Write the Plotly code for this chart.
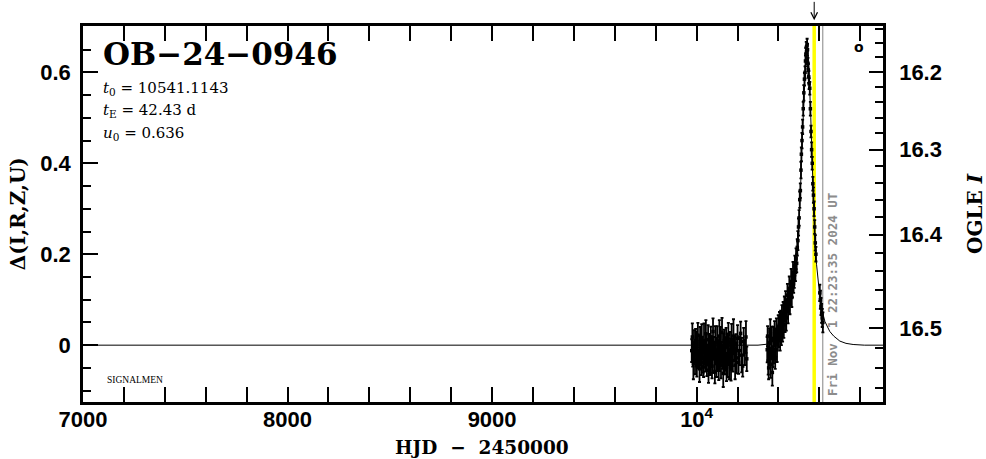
import plotly.graph_objects as go

# ---------------- data ----------------
# model light curve
model_t = [7000, 10300, 10341, 10380, 10407, 10425, 10440, 10456, 10472, 10482, 10488, 10497,
           10505, 10510, 10515, 10522, 10529, 10534, 10538, 10542, 10547, 10553, 10558, 10563,
           10568, 10573, 10578, 10586, 10594, 10602, 10611, 10620, 10627, 10640, 10651, 10670,
           10700, 10730, 10765, 10820, 10911]
model_d = [0.0, 0.0, 0.002, 0.015, 0.037, 0.052, 0.070, 0.093, 0.120, 0.150, 0.178, 0.240,
           0.310, 0.370, 0.440, 0.520, 0.590, 0.635, 0.660, 0.655, 0.630, 0.575, 0.500, 0.430,
           0.370, 0.315, 0.225, 0.178, 0.140, 0.108, 0.080, 0.062, 0.052, 0.040, 0.030, 0.020,
           0.009, 0.004, 0.0015, 0.0, 0.0]

# season 1 (baseline)
t_s1 = [9976, 9979, 9981, 9984, 9987, 9990, 9992, 9995, 9998, 10001, 10003, 10006, 10009, 10012,
        10014, 10017, 10020, 10023, 10025, 10028, 10031, 10034, 10036, 10039, 10042, 10045, 10047,
        10050, 10053, 10056, 10058, 10061, 10064, 10067, 10069, 10072, 10075, 10078, 10080, 10083,
        10086, 10089, 10091, 10094, 10097, 10100, 10102, 10105, 10108, 10111, 10113, 10116, 10119,
        10122, 10124, 10127, 10130, 10133, 10135, 10138, 10141, 10144, 10146, 10149, 10152, 10155,
        10157, 10160, 10163, 10166, 10168, 10171, 10174, 10177, 10180, 10184, 10188, 10192, 10196,
        10200, 10205, 10210, 10215, 10220, 10225, 10230, 10236, 10241, 10245]
d_s1 = [-0.012, 0.018, -0.025, -0.040, 0.005, -0.018, -0.032, 0.010, -0.008, -0.045,
        -0.020, 0.022, -0.030, -0.012, -0.052, 0.004, -0.022, -0.038, 0.015, -0.006,
        -0.028, -0.048, 0.008, -0.015, -0.034, 0.025, -0.010, -0.042, -0.020, 0.012,
        -0.055, -0.026, 0.000, -0.036, 0.018, -0.014, -0.046, -0.022, 0.030, -0.004,
        -0.030, -0.058, 0.006, -0.018, -0.040, 0.014, -0.024, -0.010, -0.050, 0.020,
        -0.032, 0.002, -0.044, -0.016, 0.028, -0.026, -0.062, -0.008, 0.010, -0.036,
        -0.020, 0.016, -0.048, -0.004, -0.030, 0.024, -0.014, -0.042, 0.006, -0.024,
        -0.052, 0.012, -0.018, -0.034, 0.020, -0.008, -0.044, 0.002, -0.028, 0.015,
        -0.038, -0.012, 0.026, -0.022, -0.046, 0.008, -0.016, 0.018, -0.030]
e_s1 = [0.025, 0.030, 0.022, 0.035, 0.028, 0.020, 0.032, 0.026, 0.038, 0.024,
        0.030, 0.027, 0.021, 0.034, 0.029, 0.036, 0.023, 0.028, 0.031, 0.025,
        0.033, 0.022, 0.040, 0.027, 0.024, 0.030, 0.035, 0.026, 0.021, 0.032,
        0.028, 0.037, 0.025, 0.030, 0.023, 0.034, 0.027, 0.039, 0.029, 0.022,
        0.031, 0.026, 0.036, 0.024, 0.030, 0.028, 0.033, 0.021, 0.027, 0.035,
        0.025, 0.038, 0.029, 0.023, 0.032, 0.026, 0.030, 0.034, 0.024, 0.028,
        0.036, 0.022, 0.031, 0.027, 0.040, 0.025, 0.029, 0.033, 0.023, 0.030,
        0.026, 0.035, 0.028, 0.024, 0.037, 0.027, 0.031, 0.022, 0.034, 0.029,
        0.025, 0.032, 0.026, 0.038, 0.023, 0.030, 0.028, 0.035, 0.027]

# season 2 (event)
t_s2 = [10345, 10347, 10350, 10352, 10355, 10357, 10360, 10362, 10365, 10367, 10370, 10373,
        10375, 10378, 10381, 10384, 10387, 10390, 10393, 10396, 10399,
        10402, 10405, 10408, 10411, 10414, 10417, 10420, 10423, 10426, 10429, 10432, 10435,
        10438, 10441, 10444, 10447, 10450, 10453, 10456, 10459, 10462, 10465, 10468, 10471,
        10474, 10477, 10480, 10483, 10486, 10489, 10492, 10495, 10498,
        10501, 10504, 10507, 10510, 10512, 10515, 10518, 10521, 10524, 10527,
        10530, 10532, 10534, 10536, 10537, 10539, 10540, 10542, 10544, 10546, 10548, 10550,
        10553, 10556, 10559, 10562, 10565, 10568, 10571, 10574, 10577, 10580, 10583,
        10602, 10605, 10608, 10611, 10614, 10617]
d_s2 = [-0.010, 0.020, -0.035, -0.050, 0.005, -0.020, 0.030, -0.042, -0.008, 0.015, -0.060, -0.025,
        0.010, -0.015, 0.025, -0.030, 0.005, 0.035, -0.010, 0.020, 0.040,
        0.020, 0.045, 0.010, 0.050, 0.030, 0.065, 0.035, 0.070, 0.045, 0.085, 0.055, 0.095,
        0.060, 0.080, 0.110, 0.075, 0.100, 0.125, 0.090, 0.115, 0.140, 0.105, 0.130, 0.160,
        0.135, 0.150, 0.175, 0.160, 0.190, 0.180, 0.215, 0.230, 0.260,
        0.280, 0.320, 0.340, 0.385, 0.420, 0.450, 0.480, 0.520, 0.555, 0.585,
        0.600, 0.625, 0.640, 0.655, 0.645, 0.630, 0.660, 0.650, 0.620, 0.605, 0.590, 0.575,
        0.565, 0.520, 0.470, 0.430, 0.400, 0.355, 0.330, 0.300, 0.260, 0.225, 0.200,
        0.115, 0.100, 0.085, 0.070, 0.060, 0.050]
e_s2 = [0.028, 0.022, 0.030, 0.025, 0.032, 0.024, 0.027, 0.030, 0.021, 0.026, 0.029, 0.023,
        0.031, 0.025, 0.028, 0.022, 0.030, 0.024, 0.027, 0.021, 0.026,
        0.024, 0.028, 0.022, 0.026, 0.030, 0.023, 0.027, 0.025, 0.029, 0.022, 0.026, 0.024,
        0.028, 0.021, 0.025, 0.027, 0.023, 0.026, 0.022, 0.024, 0.028, 0.021, 0.025, 0.023,
        0.020, 0.024, 0.022, 0.019, 0.023, 0.020, 0.018, 0.021, 0.019,
        0.017, 0.018, 0.016, 0.018, 0.015, 0.017, 0.016, 0.015, 0.017, 0.014,
        0.013, 0.012, 0.014, 0.012, 0.013, 0.012, 0.014, 0.013, 0.012, 0.014, 0.013, 0.012,
        0.014, 0.015, 0.013, 0.016, 0.014, 0.015, 0.017, 0.016, 0.015, 0.017, 0.016,
        0.018, 0.020, 0.019, 0.021, 0.020, 0.022]

t_all = t_s1 + t_s2
d_all = d_s1 + d_s2
e_all = e_s1 + e_s2

# axis tick labels
x_ticks = [7000, 8000, 9000, 10000]
x_ticktext = ["7000", "8000", "9000", "10<sup>4</sup>"]
y_ticks = [0, 0.2, 0.4, 0.6]
y_ticktext = ["0", "0.2", "0.4", "0.6"]
mag_major = [16.2, 16.3, 16.4, 16.5]
mag_minor = [16.14, 16.16, 16.18, 16.22, 16.24, 16.26, 16.28, 16.32, 16.34, 16.36, 16.38,
             16.42, 16.44, 16.46, 16.48, 16.52, 16.54, 16.56]

t_marker = 10574.6      # yellow line
t_now = 10616.43        # gray line (Fri Nov 1 22:23:35 2024 UT)

title_text = "OB\u221224\u22120946"
params = ["<i>t</i><sub>0</sub> = 10541.1143",
          "<i>t</i><sub>E</sub> = 42.43 d",
          "<i>u</i><sub>0</sub> = 0.636"]


def mag_to_delta(m):
    # mapping of the right-hand OGLE I axis onto the left-hand axis
    return 2.370 - 2.332 * 10 ** (0.4 * (m - 16.5))


XR = [7000, 10911]
YR = [-0.125, 0.702]

fig = go.Figure()
fig.add_trace(go.Scatter(x=model_t, y=model_d, mode="lines",
                         line=dict(color="black", width=1), hoverinfo="skip", showlegend=False))
fig.add_trace(go.Scatter(x=t_all, y=d_all, mode="markers",
                         marker=dict(symbol="square", size=3.5, color="black"),
                         error_y=dict(type="data", array=e_all, color="black",
                                      thickness=1.8, width=1.5),
                         showlegend=False))
fig.add_trace(go.Scatter(x=[XR[0]], y=[0], yaxis="y2", mode="markers",
                         marker=dict(opacity=0), hoverinfo="skip", showlegend=False))

tickfont = dict(family="Liberation Sans", size=22, color="black", weight="bold")

fig.update_layout(
    width=986, height=459,
    margin=dict(l=83, r=103, t=26, b=57, autoexpand=False),
    paper_bgcolor="white", plot_bgcolor="white",
    showlegend=False,
    xaxis=dict(range=XR, showgrid=False, zeroline=False, showline=True, linewidth=2.5,
               linecolor="black", mirror="allticks", ticks="inside", ticklen=15, tickwidth=2,
               tickcolor="black", tickmode="array", tickvals=x_ticks, ticktext=x_ticktext,
               tickfont=tickfont, ticklabelstandoff=-4, automargin=False,
               minor=dict(tick0=7000, dtick=200, ticks="inside", ticklen=8, tickwidth=2,
                          tickcolor="black", showgrid=False)),
    yaxis=dict(range=YR, showgrid=False, zeroline=False, showline=True, linewidth=2.5,
               linecolor="black", ticks="inside", ticklen=15, tickwidth=2, tickcolor="black",
               tickmode="array", tickvals=y_ticks, ticktext=y_ticktext, tickfont=tickfont,
               ticklabelstandoff=5, automargin=False,
               minor=dict(tick0=0, dtick=0.05, ticks="inside", ticklen=8, tickwidth=2,
                          tickcolor="black", showgrid=False)),
    yaxis2=dict(range=YR, overlaying="y", side="right", showgrid=False, zeroline=False,
                showline=True, linewidth=2.5, linecolor="black", ticks="inside", ticklen=14,
                tickwidth=2, tickcolor="black", tickmode="array",
                tickvals=[mag_to_delta(m) for m in mag_major],
                ticktext=["%.1f" % m for m in mag_major], tickfont=tickfont,
                ticklabelstandoff=9, automargin=False,
                minor=dict(tickmode="array", tickvals=[mag_to_delta(m) for m in mag_minor],
                           ticks="inside", ticklen=8, tickwidth=2, tickcolor="black",
                           showgrid=False)),
)

fig.add_shape(type="line", xref="x", yref="paper", x0=t_marker, x1=t_marker, y0=0, y1=1,
              line=dict(color="#ffff00", width=3.5), layer="below")
fig.add_shape(type="line", xref="x", yref="paper", x0=t_now, x1=t_now, y0=0, y1=1,
              line=dict(color="#999999", width=1.2), layer="below")

serif = "DejaVu Serif"
ann = []
ann.append(dict(text="<b>%s</b>" % title_text, xref="paper", yref="paper", x=0.022, y=0.926,
                xanchor="left", yanchor="middle", showarrow=False,
                font=dict(family=serif, size=31, color="black")))
for p, yy in zip(params, [0.835, 0.774, 0.715]):
    ann.append(dict(text=p, xref="paper", yref="paper", x=0.023, y=yy, xanchor="left",
                    yanchor="middle", showarrow=False,
                    font=dict(family=serif, size=15, color="black")))
ann.append(dict(text="SIGNALMEN", xref="paper", yref="paper", x=0.027, y=0.058, xanchor="left",
                yanchor="middle", showarrow=False,
                font=dict(family="Liberation Serif", size=9.5, color="black")))
ann.append(dict(text="<b>o</b>", xref="paper", yref="paper", x=0.97, y=0.944, xanchor="center",
                yanchor="middle", showarrow=False,
                font=dict(family="DejaVu Sans", size=14, color="black")))
ann.append(dict(text="<b>Fri Nov\u00a0\u00a01 22:23:35 2024 UT</b>", xref="paper", yref="paper",
                x=0.936, y=0.287, xanchor="center", yanchor="middle", textangle=-90,
                showarrow=False,
                font=dict(family="DejaVu Sans Mono", size=12.5, color="#8c8c8c")))
ann.append(dict(text="<b>\u0394(I,R,Z,U)</b>", xref="paper", yref="paper", x=-0.081, y=0.5,
                xanchor="center", yanchor="middle", textangle=-90, showarrow=False,
                font=dict(family=serif, size=20, color="black")))
ann.append(dict(text="<b>OGLE <i>I</i></b>", xref="paper", yref="paper", x=1.115, y=0.5,
                xanchor="center", yanchor="middle", textangle=-90, showarrow=False,
                font=dict(family=serif, size=20, color="black")))
ann.append(dict(text="<b>HJD\u00a0\u00a0\u2212\u00a0\u00a02450000</b>", xref="paper", yref="paper",
                x=0.499, y=-0.12, xanchor="center", yanchor="middle", showarrow=False,
                font=dict(family=serif, size=18.5, color="black")))
ann.append(dict(text="", xref="x", yref="paper", x=t_marker, y=1.015, ax=0, ay=-20,
                axref="pixel", ayref="pixel", showarrow=True, arrowhead=5, arrowsize=1.3,
                arrowwidth=1, arrowcolor="black", standoff=0))
fig.update_layout(annotations=ann)

fig.write_html("out.html", config={"displayModeBar": False},
               post_script="document.body.style.margin='0';document.body.style.padding='0';")
